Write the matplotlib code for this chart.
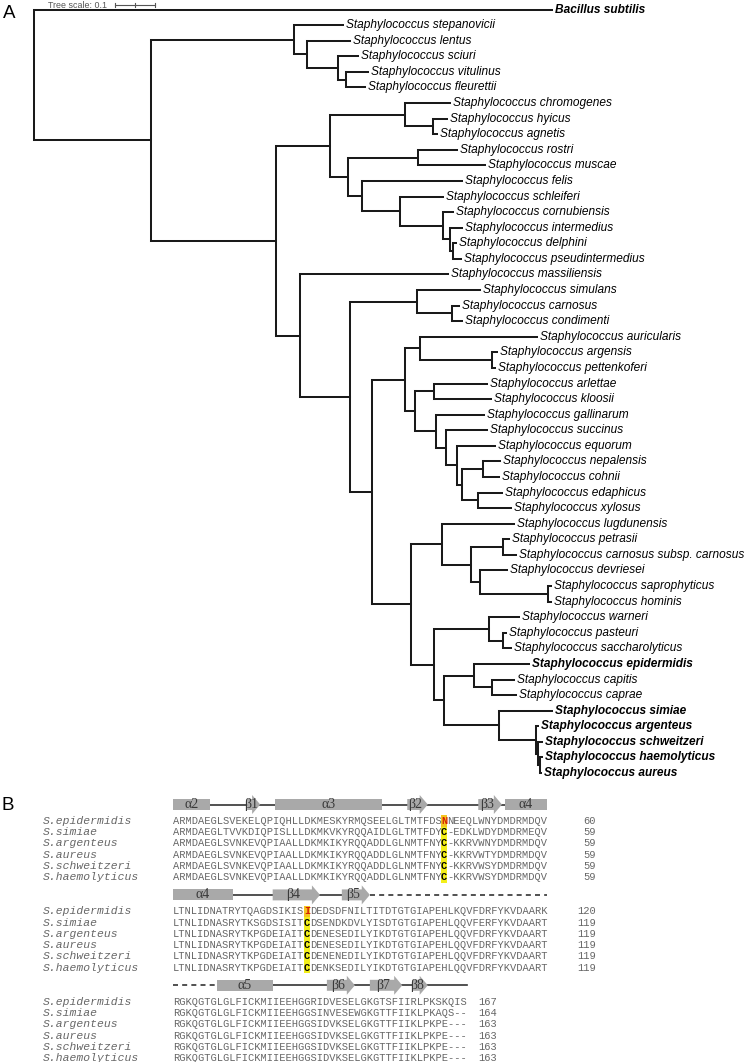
import matplotlib
matplotlib.use('Agg')
import matplotlib.pyplot as plt
from matplotlib.patches import Rectangle, Polygon

# ---- panel A: tree (branch lengths in substitutions/site) ----
newick = (
    "(Bacillus subtilis:1.295,"
    "((Staphylococcus stepanovicii:0.1225,"
    "(Staphylococcus lentus:0.1075,"
    "(Staphylococcus sciuri:0.05,"
    "(Staphylococcus vitulinus:0.055,Staphylococcus fleurettii:0.0475):0.02):0.0775):0.0325):0.3575,"
    "(((Staphylococcus chromogenes:0.1125,"
    "(Staphylococcus hyicus:0.035,Staphylococcus agnetis:0.01):0.07):0.1875,"
    "((Staphylococcus rostri:0.0975,Staphylococcus muscae:0.1675):0.175,"
    "(Staphylococcus felis:0.25,"
    "(Staphylococcus schleiferi:0.1075,"
    "(Staphylococcus cornubiensis:0.025,"
    "(Staphylococcus intermedius:0.03,"
    "(Staphylococcus delphini:0.0075,Staphylococcus pseudintermedius:0.02):0.0075"
    "):0.0175):0.1075):0.095):0.035):0.045):0.135,"
    "(Staphylococcus massiliensis:0.37,"
    "((Staphylococcus simulans:0.1575,"
    "(Staphylococcus carnosus:0.0175,Staphylococcus condimenti:0.025):0.0875):0.1675,"
    "(((Staphylococcus auricularis:0.2925,"
    "(Staphylococcus argensis:0.0125,Staphylococcus pettenkoferi:0.0075):0.18):0.0375,"
    "((Staphylococcus arlettae:0.1325,Staphylococcus kloosii:0.1425):0.0475,"
    "(Staphylococcus gallinarum:0.12,"
    "(Staphylococcus succinus:0.1025,"
    "(Staphylococcus equorum:0.095,"
    "((Staphylococcus nepalensis:0.0425,Staphylococcus cohnii:0.04):0.0525,"
    "(Staphylococcus edaphicus:0.06,Staphylococcus xylosus:0.0825):0.04):0.0125"
    "):0.0275):0.025):0.0525):0.025):0.0825,"
    "((Staphylococcus lugdunensis:0.18,"
    "((Staphylococcus petrasii:0.015,Staphylococcus carnosus subsp. carnosus:0.0325):0.08,"
    "(Staphylococcus devriesei:0.0675,"
    "(Staphylococcus saprophyticus:0.0075,Staphylococcus hominis:0.0075):0.17):0.0225"
    "):0.0725):0.0775,"
    "((Staphylococcus warneri:0.075,"
    "(Staphylococcus pasteuri:0.0075,Staphylococcus saccharolyticus:0.02):0.035):0.1375,"
    "((Staphylococcus epidermidis:0.1375,"
    "(Staphylococcus capitis:0.055,Staphylococcus caprae:0.06):0.045):0.075,"
    "(Staphylococcus simiae:0.1325,"
    "(Staphylococcus argenteus:0.005,"
    "(Staphylococcus schweitzeri:0.01,"
    "(Staphylococcus haemolyticus:0.005,Staphylococcus aureus:0.0025):0.005):0.005):0.0925"
    "):0.1375):0.025):0.0575):0.0975):0.055):0.125):0.06):0.3125):0.2925);"
)
bold_taxa = ["Bacillus subtilis", "Staphylococcus epidermidis", "Staphylococcus simiae",
             "Staphylococcus argenteus", "Staphylococcus schweitzeri",
             "Staphylococcus haemolyticus", "Staphylococcus aureus"]
tree_scale = 0.1

# ---- panel B: alignment ----
seq_names = ["S.epidermidis", "S.simiae", "S.argenteus", "S.aureus",
             "S.schweitzeri", "S.haemolyticus"]
block1 = ["ARMDAEGLSVEKELQPIQHLLDKMESKYRMQSEELGLTMTFDSNNEEQLWNYDMDRMDQV",
          "ARMDAEGLTVVKDIQPISLLLDKMKVKYRQQAIDLGLTMTFDYC-EDKLWDYDMDRMEQV",
          "ARMDAEGLSVNKEVQPIAALLDKMKIKYRQQADDLGLNMTFNYC-KKRVWNYDMDRMDQV",
          "ARMDAEGLSVNKEVQPIAALLDKMKIKYRQQADDLGLNMTFNYC-KKRVWTYDMDRMDQV",
          "ARMDAEGLSVNKEVQPIAALLDKMKIKYRQQADDLGLNMTFNYC-KKRVWSYDMDRMDQV",
          "ARMDAEGLSVNKEVQPIAALLDKMKIKYRQQADDLGLNMTFNYC-KKRVWSYDMDRMDQV"]
block2 = ["LTNLIDNATRYTQAGDSIKISIDEDSDFNILTITDTGTGIAPEHLKQVFDRFYKVDAARK",
          "LTNLIDNASRYTKSGDSISITCDSENDKDVLYISDTGTGIAPEHLQQVFERFYKVDAART",
          "LTNLIDNASRYTKPGDEIAITCDENESEDILYIKDTGTGIAPEHLQQVFDRFYKVDAART",
          "LTNLIDNASRYTKPGDEIAITCDENESEDILYIKDTGTGIAPEHLQQVFDRFYKVDAART",
          "LTNLIDNASRYTKPGDEIAITCDENENEDILYIKDTGTGIAPEHLQQVFDRFYKVDAART",
          "LTNLIDNASRYTKPGDEIAITCDENKSEDILYIKDTGTGIAPEHLQQVFDRFYKVDAART"]
block3 = ["RGKQGTGLGLFICKMIIEEHGGRIDVESELGKGTSFIIRLPKSKQIS",
          "RGKQGTGLGLFICKMIIEEHGGSINVESEWGKGTTFIIKLPKAQS--",
          "RGKQGTGLGLFICKMIIEEHGGSIDVKSELGKGTTFIIKLPKPE---",
          "RGKQGTGLGLFICKMIIEEHGGSIDVKSELGKGTTFIIKLPKPE---",
          "RGKQGTGLGLFICKMIIEEHGGSIDVKSELGKGTTFIIKLPKPE---",
          "RGKQGTGLGLFICKMIIEEHGGSIDVKSELGKGTTFIIKLPKPE---"]
block_ends = [[60, 59, 59, 59, 59, 59],
              [120, 119, 119, 119, 119, 119],
              [167, 164, 163, 163, 163, 163]]
highlight_cols = [43, 21, None]

# secondary structure: (kind, label, start col, end col)
ss_elements = [
    [("helix", "α2", 0, 5.9), ("strand", "β1", 11.9, 14.0), ("helix", "α3", 16.4, 33.5),
     ("strand", "β2", 37.6, 40.9), ("strand", "β3", 49.0, 52.8), ("helix", "α4", 53.3, 60.0)],
    [("helix", "α4", 0, 9.6), ("strand", "β4", 16.0, 23.6), ("strand", "β5", 27.1, 31.6)],
    [("helix", "α5", 7.1, 16.0), ("strand", "β6", 24.7, 29.2), ("strand", "β7", 31.6, 36.8),
     ("strand", "β8", 38.4, 40.9)],
]
ss_solid = [[(5.9, 53.3)], [(9.6, 27.1)], [(16.0, 47.2)]]
ss_dashed = [[], [(31.6, 60.0)], [(0, 7.1)]]
num_right = [67.9, 67.9, 52.0]


def parse_newick(s):
    pos = 0

    def node():
        nonlocal pos
        children = []
        if s[pos] == '(':
            pos += 1
            children.append(node())
            while s[pos] == ',':
                pos += 1
                children.append(node())
            pos += 1
        start = pos
        while s[pos] not in ':,);':
            pos += 1
        name = s[start:pos].strip()
        length = 0.0
        if s[pos] == ':':
            pos += 1
            start = pos
            while s[pos] not in ',);':
                pos += 1
            length = float(s[start:pos])
        return {"name": name, "len": length, "children": children}

    return node()


leaf_counter = [0]


def layout(n, x_parent):
    n["x"] = x_parent + n["len"]
    if not n["children"]:
        n["y"] = leaf_counter[0]
        leaf_counter[0] += 1
    else:
        for c in n["children"]:
            layout(c, n["x"])
        n["y"] = (n["children"][0]["y"] + n["children"][-1]["y"]) / 2


W, H = 746, 1062
fig = plt.figure(figsize=(W / 100, H / 100), dpi=100)

# ---------- panel A ----------
tree = parse_newick(newick)
layout(tree, 0.0)

px_per_unit = 400.0
root_px = 34
leaf0_px, leaf_step = 9.6, 15.58
top_h = 790
axA = fig.add_axes([0, 1 - top_h / H, 1, top_h / H])
axA.set_xlim(-root_px / px_per_unit, (W - root_px) / px_per_unit)
axA.set_ylim((top_h - leaf0_px) / leaf_step, -leaf0_px / leaf_step)
axA.axis('off')

lc = '#1a1a1a'
lw = 1.45


def draw(n):
    if n["children"]:
        ys = [c["y"] for c in n["children"]]
        axA.plot([n["x"], n["x"]], [min(ys), max(ys)], color=lc, lw=lw,
                 solid_capstyle='projecting')
        for c in n["children"]:
            axA.plot([n["x"], c["x"]], [c["y"], c["y"]], color=lc, lw=lw,
                     solid_capstyle='projecting')
            draw(c)
    else:
        bold = n["name"] in bold_taxa
        axA.text(n["x"] + 0.008, n["y"], n["name"], fontsize=8.6, style='italic',
                 weight='bold' if bold else 'normal', family='Liberation Sans',
                 ha='left', va='center', color='black')


draw(tree)

# tree scale bar
sb_x0 = (115 - root_px) / px_per_unit
sb_y = (5 - leaf0_px) / leaf_step
axA.plot([sb_x0, sb_x0 + tree_scale], [sb_y, sb_y], color='#555555', lw=0.8, clip_on=False)
for xt in [sb_x0, sb_x0 + tree_scale / 2, sb_x0 + tree_scale]:
    axA.plot([xt, xt], [sb_y - 0.15, sb_y + 0.15], color='#555555', lw=0.8, clip_on=False)
axA.text(sb_x0 - 0.02, sb_y, f"Tree scale: {tree_scale}", fontsize=6.4, color='#555555',
         family='Liberation Sans', ha='right', va='center')

fig.text(9 / W, 1 - 14 / H, "A", fontsize=13.5, family='Liberation Sans', ha='center', va='center')
fig.text(8 / W, 1 - 806 / H, "B", fontsize=13.5, family='Liberation Sans', ha='center', va='center')

# ---------- panel B ----------
col_px, col0_px = 6.23, 173
line_px, ss0_px = 11.3, 804.5
block_step, row_off = 8.0, 1.45
axB = fig.add_axes([0, 0, 1, 1 - top_h / H])
axB.set_xlim(-col0_px / col_px, (W - col0_px) / col_px)
axB.set_ylim((H - ss0_px) / line_px, (top_h - ss0_px) / line_px)
axB.axis('off')

seq_color = '#666666'
ss_color = '#a9a9a9'
head_len, head_h, body_h = 1.3, 1.68, 0.97
mono = dict(fontsize=7.47, family='Liberation Mono', va='center')

for b, rows in enumerate([block1, block2, block3]):
    y_ss = b * block_step
    # secondary structure
    for x0, x1 in ss_solid[b]:
        axB.plot([x0, x1], [y_ss, y_ss], color='#333333', lw=1.2, zorder=1)
    for x0, x1 in ss_dashed[b]:
        axB.plot([x0, x1], [y_ss, y_ss], color='#333333', lw=1.2, ls=(0, (3, 2.5)), zorder=1)
    for kind, lab, x0, x1 in ss_elements[b]:
        if kind == "helix":
            axB.add_patch(Rectangle((x0, y_ss - body_h / 2), x1 - x0, body_h,
                                    facecolor=ss_color, edgecolor='none', zorder=2))
            xc = (x0 + x1) / 2
        else:
            xh = x1 - head_len
            pts = [(x0, y_ss - body_h / 2), (xh, y_ss - body_h / 2), (xh, y_ss - head_h / 2),
                   (x1, y_ss), (xh, y_ss + head_h / 2), (xh, y_ss + body_h / 2),
                   (x0, y_ss + body_h / 2)]
            axB.add_patch(Polygon(pts, closed=True, facecolor=ss_color, edgecolor='none', zorder=2))
            xc = (x0 + xh) / 2 + 0.2
        axB.text(xc, y_ss, lab, fontsize=10, family='Liberation Serif', color='#3a3a3a',
                 ha='center', va='center', zorder=3)

    hc = highlight_cols[b]
    y_first = y_ss + row_off
    if hc is not None:
        axB.add_patch(Rectangle((hc, y_first - 0.5), 1, len(rows), facecolor='#f3ef1a',
                                edgecolor='none', zorder=1))
        axB.add_patch(Rectangle((hc, y_first - 0.5), 1, 1, facecolor='#f5c520',
                                edgecolor='none', zorder=1))
    for r, seq in enumerate(rows):
        y = y_first + r
        if hc is not None:
            axB.text(0, y, seq[:hc], color=seq_color, ha='left', zorder=2, **mono)
            axB.text(hc + 0.5, y, seq[hc], weight='bold',
                     color='#d42000' if r == 0 else 'black', ha='center', zorder=3, **mono)
            axB.text(hc + 1, y, seq[hc + 1:], color=seq_color, ha='left', zorder=2, **mono)
        else:
            axB.text(0, y, seq, color=seq_color, ha='left', zorder=2, **mono)
        axB.text(-20.9, y, seq_names[r], fontsize=8.2, family='Liberation Mono',
                 style='italic', color=seq_color, ha='left', va='center')
        axB.text(num_right[b], y, str(block_ends[b][r]), color=seq_color, ha='right', **mono)

fig.savefig('out.png', dpi=100)
